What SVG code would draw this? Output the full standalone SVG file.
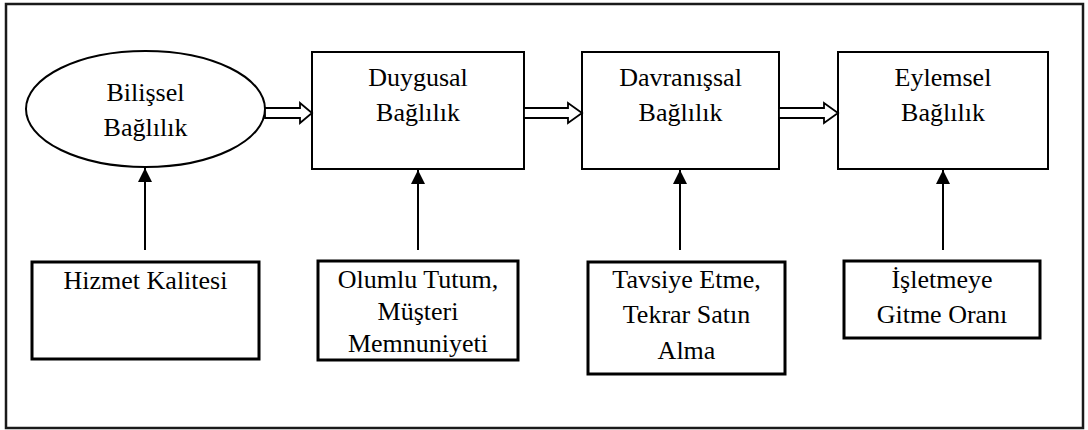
<svg xmlns="http://www.w3.org/2000/svg" width="1088" height="430" viewBox="0 0 1088 430">
  <style>
    .lbl { font-family: "Liberation Serif", "Times New Roman", serif; font-size: 26px; fill: #000; text-anchor: middle; }
    .node { fill: #fff; stroke: #000; stroke-width: 2; }
    .src { fill: #fff; stroke: #000; stroke-width: 3; }
    .flow { fill: #fff; stroke: #000; stroke-width: 1.8; stroke-linejoin: miter; }
    .up { stroke: #000; stroke-width: 2; fill: none; marker-end: url(#tri); }
  </style>
  <defs>
    <marker id="tri" viewBox="0 0 14 14" refX="14" refY="7" markerWidth="14" markerHeight="14" markerUnits="userSpaceOnUse" orient="auto">
      <path d="M0,0 L14,7 L0,14 Z" fill="#000"/>
    </marker>
  </defs>

  <rect width="1088" height="430" fill="#fff"/>
  <!-- outer frame -->
  <rect x="6" y="4" width="1077" height="424" fill="none" stroke="#1a1a1a" stroke-width="2.5"/>

  <!-- upper stage nodes -->
  <g id="bilissel">
    <ellipse cx="145.5" cy="109" rx="119.5" ry="58" class="node" stroke-width="2.5"/>
    <text class="lbl" x="145.5" y="101">Bilişsel</text>
    <text class="lbl" x="145.5" y="136">Bağlılık</text>
  </g>
  <g id="duygusal">
    <rect x="312" y="52" width="212" height="117" class="node"/>
    <text class="lbl" x="418" y="86">Duygusal</text>
    <text class="lbl" x="418" y="121">Bağlılık</text>
  </g>
  <g id="davranissal">
    <rect x="582" y="52" width="197" height="117" class="node"/>
    <text class="lbl" x="680.5" y="86">Davranışsal</text>
    <text class="lbl" x="680.5" y="121">Bağlılık</text>
  </g>
  <g id="eylemsel">
    <rect x="838" y="52" width="210" height="117" class="node"/>
    <text class="lbl" x="943" y="86">Eylemsel</text>
    <text class="lbl" x="943" y="121">Bağlılık</text>
  </g>

  <!-- lower driver nodes -->
  <g id="hizmet-kalitesi">
    <rect x="32" y="262" width="227" height="97" class="src"/>
    <text class="lbl" x="145.5" y="289">Hizmet Kalitesi</text>
  </g>
  <g id="olumlu-tutum">
    <rect x="318" y="261" width="200" height="99" class="src"/>
    <text class="lbl" x="418" y="288">Olumlu Tutum,</text>
    <text class="lbl" x="418" y="320">Müşteri</text>
    <text class="lbl" x="418" y="352">Memnuniyeti</text>
  </g>
  <g id="tavsiye-etme">
    <rect x="588" y="262" width="197" height="112" class="src"/>
    <text class="lbl" x="686.5" y="288">Tavsiye Etme,</text>
    <text class="lbl" x="686.5" y="323">Tekrar Satın</text>
    <text class="lbl" x="686.5" y="359">Alma</text>
  </g>
  <g id="isletmeye-gitme">
    <rect x="844" y="261" width="196" height="77" class="src"/>
    <text class="lbl" x="942" y="288">İşletmeye</text>
    <text class="lbl" x="942" y="323">Gitme Oranı</text>
  </g>

  <!-- connectors -->
  <g id="connectors">
    <path class="flow" d="M265,108 H300 V103 L312,113 L300,123 V118 H265 Z"/>
    <path class="flow" d="M524,108 H568 V103 L582,113 L568,123 V118 H524 Z"/>
    <path class="flow" d="M779,108 H824 V103 L838,113 L824,123 V118 H779 Z"/>
    <line class="up" x1="145" y1="250" x2="145" y2="168"/>
    <line class="up" x1="418" y1="250" x2="418" y2="170"/>
    <line class="up" x1="680" y1="250" x2="680" y2="170"/>
    <line class="up" x1="943" y1="250" x2="943" y2="170"/>
  </g>
</svg>
